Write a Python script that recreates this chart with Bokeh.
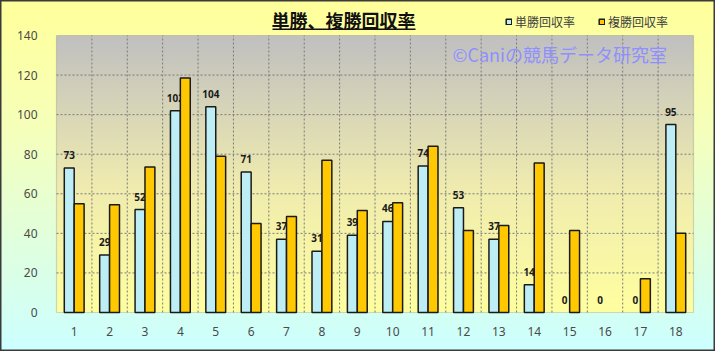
import numpy as np
from bokeh.plotting import figure
from bokeh.models import (Range1d, FixedTicker, Label, Legend, LegendItem,
                          BoxAnnotation, ColumnDataSource)
from bokeh.transform import dodge
from bokeh.core.properties import value
from bokeh.embed import file_html
from bokeh.resources import INLINE

# ---- data ----
categories = list(range(1, 19))
tansho = [73, 29, 52, 102, 104, 71, 37, 31, 39, 46, 74, 53, 37, 14, 0, 0, 0, 95]
fukusho = [55, 54.5, 73.5, 118.5, 79, 45, 48.5, 77, 51.5, 55.5, 84, 41.5, 44, 75.5, 41.5, 0, 17, 40]
tansho_labels = [str(v) for v in tansho]
y_ticks = [0, 20, 40, 60, 80, 100, 120, 140]
series_names = ["単勝回収率", "複勝回収率"]
title_text = "単勝、複勝回収率"
watermark_text = "©Caniの競馬データ研究室"

# ---- layout (pixels) ----
W, H = 715, 351
plot_l, plot_r, plot_t, plot_b = 56, 693, 35, 312
x_lo, x_hi = 0.5, 18.5
y_lo, y_hi = 0, 140
ppx = (plot_r - plot_l) / (x_hi - x_lo)
ppy = (plot_b - plot_t) / (y_hi - y_lo)
xr = Range1d(x_lo - plot_l / ppx, x_hi + (W - plot_r) / ppx)
yr = Range1d(y_lo - (H - plot_b) / ppy, y_hi + plot_t / ppy)

src = ColumnDataSource(dict(x=categories, t=tansho, f=fukusho, lab=tansho_labels,
                            ta=[1.0 if v > 0 else 0.0 for v in tansho],
                            fa=[1.0 if v > 0 else 0.0 for v in fukusho]))

p = figure(width=W, height=H, output_backend="svg", toolbar_location=None,
           x_range=xr, y_range=yr, title=None,
           min_border_left=0, min_border_right=0, min_border_top=0, min_border_bottom=0)
p.border_fill_color = None
p.background_fill_color = None
p.outline_line_color = "#3a3a3a"
p.outline_line_width = 2
p.styles = {"background": "linear-gradient(to bottom, #ffff99 0%, #f6ffb8 35%, #ccffff 100%)"}
p.grid.visible = False

# plot-area gradient (gray top -> pale yellow bottom)
N = 256
t = np.linspace(0, 1, N)
bottom_c = np.array([255, 255, 160])
mid_c = np.array([240, 236, 175])
top_c = np.array([192, 192, 192])
cols = np.where(t[:, None] < 0.45,
                bottom_c + (mid_c - bottom_c) * (t[:, None] / 0.45),
                mid_c + (top_c - mid_c) * ((t[:, None] - 0.45) / 0.55))
img = np.empty((N, 1), dtype=np.uint32)
view = img.view(dtype=np.uint8).reshape((N, 1, 4))
view[:, 0, 0] = cols[:, 0]
view[:, 0, 1] = cols[:, 1]
view[:, 0, 2] = cols[:, 2]
view[:, 0, 3] = 255
p.image_rgba(image=[img], x=x_lo, y=y_lo, dw=x_hi - x_lo, dh=y_hi - y_lo, level="image")

# grid lines limited to the plot area
hy = y_ticks[1:-1]
p.segment(x0=[x_lo] * len(hy), x1=[x_hi] * len(hy), y0=hy, y1=hy,
          line_color="#7a7a7a", line_dash="2 2", line_width=1, level="underlay")
vx = [c + 0.5 for c in categories[:-1]]
p.segment(x0=vx, x1=vx, y0=[y_lo] * len(vx), y1=[y_hi] * len(vx),
          line_color="#7a7a7a", line_dash="2 2", line_width=1, level="underlay")
p.add_layout(BoxAnnotation(left=x_lo, right=x_hi, bottom=y_lo, top=y_hi,
                           fill_alpha=0, line_color="#808080", line_width=1.2,
                           level="underlay"))

# axes
p.yaxis.ticker = FixedTicker(ticks=y_ticks)
p.xaxis.ticker = FixedTicker(ticks=categories)
p.yaxis.fixed_location = x_lo
p.xaxis.fixed_location = y_lo
for ax in (p.xaxis, p.yaxis):
    ax.axis_line_color = None
    ax.major_tick_line_color = None
    ax.minor_tick_line_color = None
    ax.major_label_text_font = "Noto Sans"
    ax.major_label_text_font_size = "12px"
    ax.major_label_text_color = "#4a4a4a"
p.yaxis.major_label_standoff = 13
p.xaxis.major_label_standoff = 8

bw = 0.28
r1 = p.vbar(x=dodge("x", -bw / 2, range=p.x_range), top="t", width=bw, source=src,
            fill_color="#bdeef5", line_color="#1a1a1a", line_width=1.5, line_alpha="ta")
p.text(x=dodge("x", -bw / 2, range=p.x_range), y="t", text="lab", source=src,
       text_align="center", text_baseline="middle", y_offset=-13,
       text_font=value("Noto Sans"), text_font_style="bold", text_font_size=value("10px"),
       text_color="#1a1a1a")
r2 = p.vbar(x=dodge("x", bw / 2, range=p.x_range), top="f", width=bw, source=src,
            fill_color="#ffc800", line_color="#1a1a1a", line_width=1.5, line_alpha="fa")

legend = Legend(items=[LegendItem(label=series_names[0], renderers=[r1]),
                       LegendItem(label=series_names[1], renderers=[r2])],
                orientation="horizontal", location=(505, H - 31),
                glyph_width=7, glyph_height=7, label_standoff=3, spacing=23,
                padding=0, margin=0, border_line_color=None, background_fill_alpha=0,
                label_text_font="Noto Sans CJK JP", label_text_font_size="12px",
                label_text_color="#404040", label_height=20)
p.add_layout(legend)

p.add_layout(Label(x=343, y=H - 19, x_units="screen", y_units="screen", text=title_text,
                   text_align="center", text_baseline="middle",
                   text_font="Noto Sans CJK JP", text_font_style="bold",
                   text_font_size="18px", text_color="#111111"))
p.add_layout(BoxAnnotation(left=272, right=415, bottom=H - 29.5, top=H - 28,
                           left_units="screen", right_units="screen",
                           bottom_units="screen", top_units="screen",
                           fill_color="#111111", fill_alpha=1, line_color=None))
p.add_layout(Label(x=452, y=H - 53, x_units="screen", y_units="screen", text=watermark_text,
                   text_align="left", text_baseline="middle",
                   text_font="Noto Sans CJK JP", text_font_size="18px",
                   text_color="#8f8fff", text_alpha=1.0))

open("out.html", "w").write(file_html(p, INLINE))
